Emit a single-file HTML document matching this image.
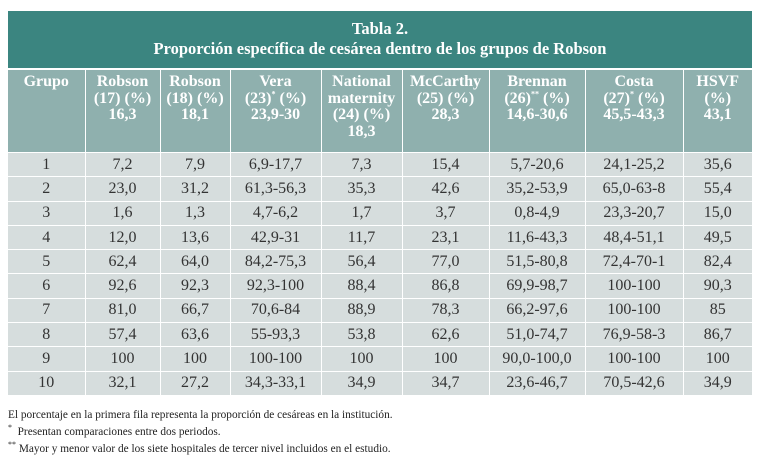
<!DOCTYPE html>
<html><head><meta charset="utf-8"><style>
body{margin:0;width:766px;height:462px;background:#fff;position:relative;font-family:"Liberation Serif",serif;overflow:hidden}
#title{position:absolute;left:8px;top:11px;width:744px;height:57px;background:#3b8580;color:#fff;text-align:center;font-weight:bold;font-size:16.5px;line-height:20px;padding-top:8px;box-sizing:border-box}
table{position:absolute;left:8px;top:69px;border-collapse:collapse;table-layout:fixed;width:744px}
td,th{border:1.5px solid #fff;text-align:center;padding:0}
th{background:#8fb0ae;color:#fff;font-size:16px;line-height:16.5px;vertical-align:top;padding-top:4px;height:78px}
td{background:#d6dddd;color:#333;font-size:16px;height:23.3px;line-height:18px}
tr>*:first-child{border-left:none}
tr>*:last-child{border-right:none}
.fn{position:absolute;left:8px;font-size:11.3px;color:#222;white-space:nowrap}
sup{font-size:8px;line-height:0}
</style></head><body>
<div id="title">Tabla 2.<br>Proporción específica de cesárea dentro de los grupos de Robson</div>
<table>
<colgroup><col style="width:77px"><col style="width:75px"><col style="width:70px"><col style="width:91px"><col style="width:81px"><col style="width:87px"><col style="width:96px"><col style="width:98px"><col style="width:69px"></colgroup>
<tr><th>Grupo</th><th>Robson<br>(17) (%)<br>16,3</th><th>Robson<br>(18) (%)<br>18,1</th><th>Vera<br>(23)<sup>*</sup> (%)<br>23,9-30</th><th>National<br>maternity<br>(24) (%)<br>18,3</th><th>McCarthy<br>(25) (%)<br>28,3</th><th>Brennan<br>(26)<sup>**</sup> (%)<br>14,6-30,6</th><th>Costa<br>(27)<sup>*</sup> (%)<br>45,5-43,3</th><th>HSVF<br>(%)<br>43,1</th></tr>
<tr><td>1</td><td>7,2</td><td>7,9</td><td>6,9-17,7</td><td>7,3</td><td>15,4</td><td>5,7-20,6</td><td>24,1-25,2</td><td>35,6</td></tr>
<tr><td>2</td><td>23,0</td><td>31,2</td><td>61,3-56,3</td><td>35,3</td><td>42,6</td><td>35,2-53,9</td><td>65,0-63-8</td><td>55,4</td></tr>
<tr><td>3</td><td>1,6</td><td>1,3</td><td>4,7-6,2</td><td>1,7</td><td>3,7</td><td>0,8-4,9</td><td>23,3-20,7</td><td>15,0</td></tr>
<tr><td>4</td><td>12,0</td><td>13,6</td><td>42,9-31</td><td>11,7</td><td>23,1</td><td>11,6-43,3</td><td>48,4-51,1</td><td>49,5</td></tr>
<tr><td>5</td><td>62,4</td><td>64,0</td><td>84,2-75,3</td><td>56,4</td><td>77,0</td><td>51,5-80,8</td><td>72,4-70-1</td><td>82,4</td></tr>
<tr><td>6</td><td>92,6</td><td>92,3</td><td>92,3-100</td><td>88,4</td><td>86,8</td><td>69,9-98,7</td><td>100-100</td><td>90,3</td></tr>
<tr><td>7</td><td>81,0</td><td>66,7</td><td>70,6-84</td><td>88,9</td><td>78,3</td><td>66,2-97,6</td><td>100-100</td><td>85</td></tr>
<tr><td>8</td><td>57,4</td><td>63,6</td><td>55-93,3</td><td>53,8</td><td>62,6</td><td>51,0-74,7</td><td>76,9-58-3</td><td>86,7</td></tr>
<tr><td>9</td><td>100</td><td>100</td><td>100-100</td><td>100</td><td>100</td><td>90,0-100,0</td><td>100-100</td><td>100</td></tr>
<tr><td>10</td><td>32,1</td><td>27,2</td><td>34,3-33,1</td><td>34,9</td><td>34,7</td><td>23,6-46,7</td><td>70,5-42,6</td><td>34,9</td></tr>
</table>
<div class="fn" style="top:409px">El porcentaje en la primera fila representa la proporción de cesáreas en la institución.</div>
<div class="fn" style="top:426px"><sup>*</sup>&nbsp; Presentan comparaciones entre dos periodos.</div>
<div class="fn" style="top:443px"><sup>**</sup> Mayor y menor valor de los siete hospitales de tercer nivel incluidos en el estudio.</div>
</body></html>
